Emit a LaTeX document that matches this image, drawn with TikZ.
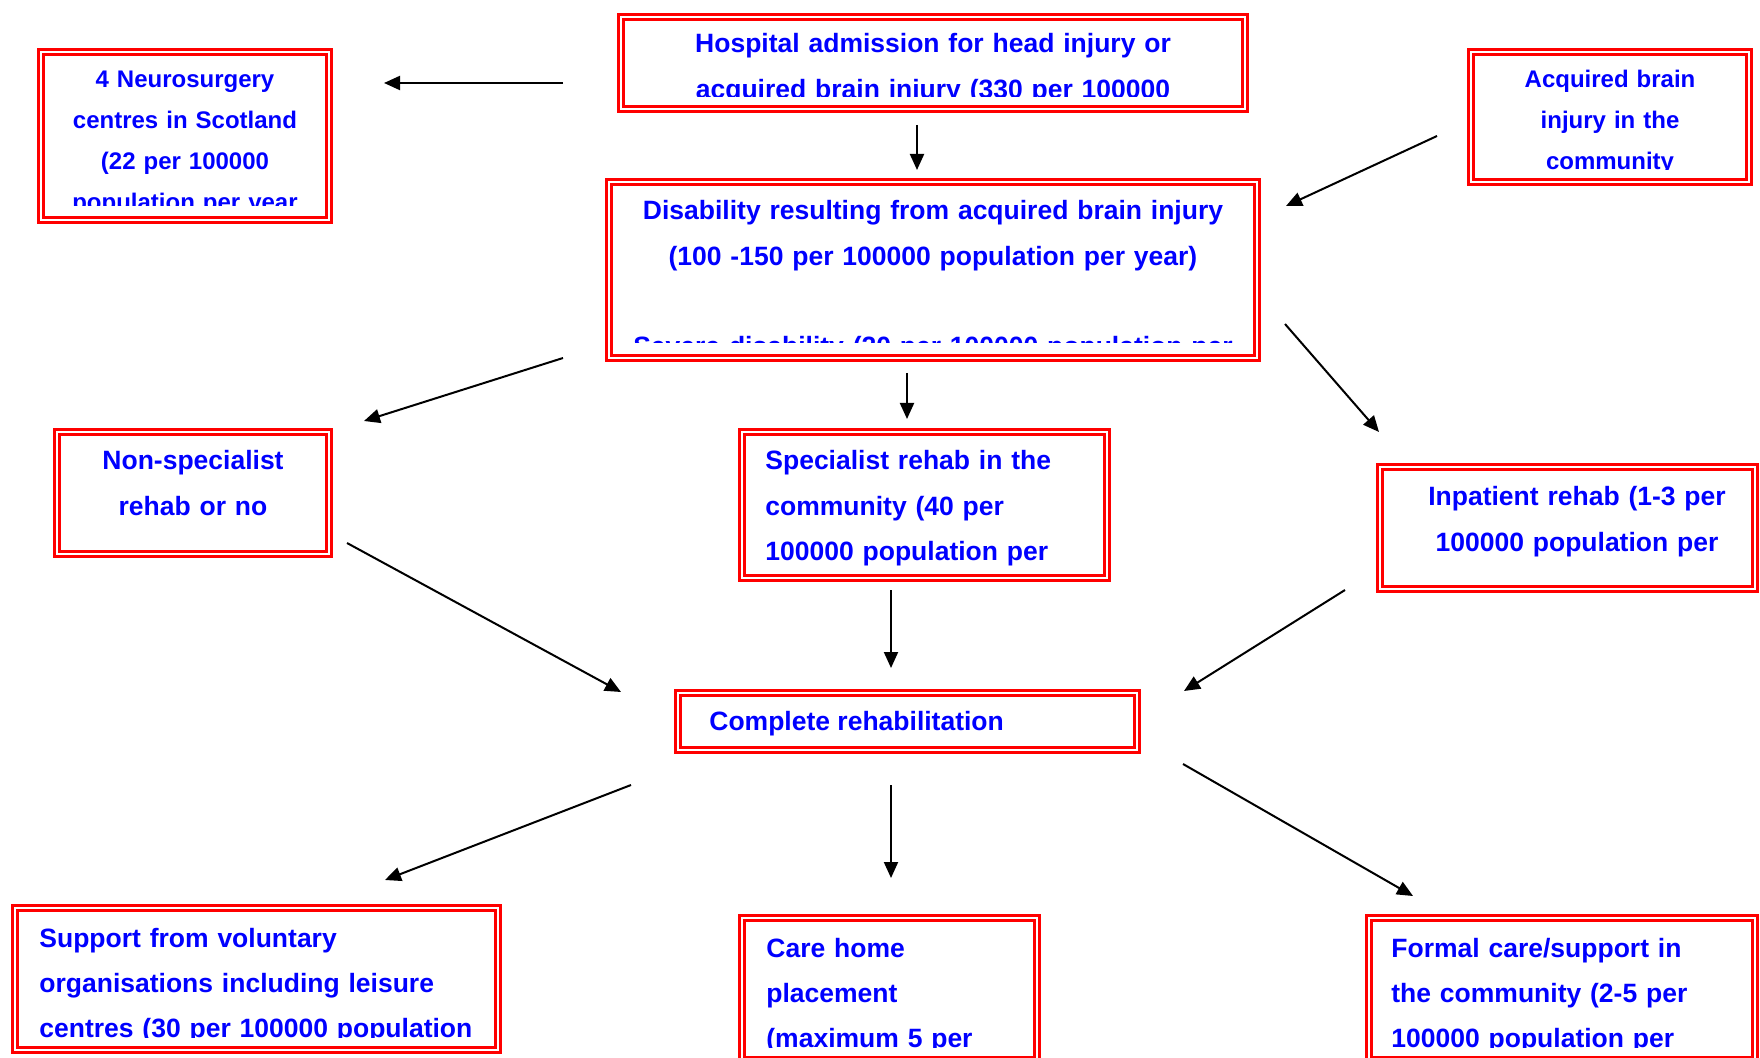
\documentclass[tikz,border=0pt]{standalone}
\usepackage{fontspec}
\setmainfont{Liberation Sans}
\usetikzlibrary{arrows.meta,fit}

\begin{document}
\begin{tikzpicture}[x=0.5pt,y=0.5pt,yscale=-1,xscale=1,
        box/.style={draw=red,double=white,line width=1.25pt,double distance=1.15pt,inner sep=0pt,rectangle},
        txt/.style={text=blue,font=\fontsize{13.25}{22.65}\selectfont\bfseries,inner sep=0pt},
        smalltxt/.style={text=blue,font=\fontsize{12}{20.4}\selectfont\bfseries,inner sep=0pt},
        arr/.style={line width=1pt,-{Triangle[length=8pt,width=7pt]}}]
        \useasboundingbox (0,0) rectangle (1760,1058);
        \clip (0,0) rectangle (1760,1058);

        %Shape: Rectangle
        \node [box, fit={(621,17) (1245,109)}] (hosp) {};
        %Shape: Rectangle
        \node [box, fit={(609,182) (1257,358)}] (dis) {};
        %Shape: Rectangle
        \node [box, fit={(41,52) (329,220)}] (neuro) {};
        %Shape: Rectangle
        \node [box, fit={(1471,52) (1749,182)}] (acq) {};
        %Shape: Rectangle
        \node [box, fit={(57,432) (329,554)}] (nonspec) {};
        %Shape: Rectangle
        \node [box, fit={(742,432) (1107,578)}] (spec) {};
        %Shape: Rectangle
        \node [box, fit={(1380,467) (1755,589)}] (inpat) {};
        %Shape: Rectangle
        \node [box, fit={(678,693) (1137,750)}] (complete) {};
        %Shape: Rectangle
        \node [box, fit={(15,908) (498,1050)}] (support) {};
        %Shape: Rectangle
        \node [box, fit={(742,918) (1037,1060)}] (care) {};
        %Shape: Rectangle
        \node [box, fit={(1369,918) (1755,1060)}] (formal) {};

        % Text Node
        \begin{scope}
        \clip (621,17) rectangle (1245,97);
        \node [txt, align=center, text width=300pt, anchor=base] (hospt) at (933,53) {Hospital admission for head injury or\\acquired brain injury (330 per 100000};
        \end{scope}
        % Text Node
        \begin{scope}
        \clip (609,182) rectangle (1257,343);
        \node [txt, align=center, text width=320pt, anchor=base] (dist) at (933,220) {Disability resulting from acquired brain injury\\(100 -150 per 100000 population per year)\\[22.65pt]Severe disability (20 per 100000 population per};
        \end{scope}
        % Text Node
        \begin{scope}
        \clip (41,52) rectangle (329,206);
        \node [smalltxt, align=center, text width=140pt, anchor=base] (neurot) at (185,88) {4 Neurosurgery\\centres in Scotland\\(22 per 100000\\population per year};
        \end{scope}
        % Text Node
        \begin{scope}
        \clip (1471,52) rectangle (1749,170);
        \node [smalltxt, align=center, text width=130pt, anchor=base] (acqt) at (1610,88) {Acquired brain\\injury in the\\community};
        \end{scope}
        % Text Node
        \begin{scope}
        \clip (57,432) rectangle (329,541);
        \node [txt, align=center, text width=130pt, anchor=base] (nonspect) at (193,470) {Non-specialist\\rehab or no};
        \end{scope}
        % Text Node
        \begin{scope}
        \clip (742,432) rectangle (1107,565);
        \node [txt, align=left, text width=170pt, anchor=base west] (spect) at (765,470) {Specialist rehab in the\\community (40 per\\100000 population per};
        \end{scope}
        % Text Node
        \begin{scope}
        \clip (1380,467) rectangle (1755,575);
        \node [txt, align=center, text width=170pt, anchor=base] (inpatt) at (1577,506) {Inpatient rehab (1-3 per\\100000 population per};
        \end{scope}
        % Text Node
        \node [txt, anchor=base west] (completet) at (709,730) {Complete rehabilitation};
        % Text Node
        \begin{scope}
        \clip (15,908) rectangle (498,1037);
        \node [txt, align=left, text width=225pt, anchor=base west] (supportt) at (39,947) {Support from voluntary\\organisations including leisure\\centres (30 per 100000 population};
        \end{scope}
        % Text Node
        \begin{scope}
        \clip (742,918) rectangle (1037,1047);
        \node [txt, align=left, text width=130pt, anchor=base west] (caret) at (766,957) {Care home\\placement\\(maximum 5 per};
        \end{scope}
        % Text Node
        \begin{scope}
        \clip (1369,918) rectangle (1755,1047);
        \node [txt, align=left, text width=170pt, anchor=base west] (formalt) at (1391,957) {Formal care/support in\\the community (2-5 per\\100000 population per};
        \end{scope}

        %Straight Lines
        \coordinate (hospW) at (563,83);
        \coordinate (neuroE) at (384,83);
        \draw [arr] (hospW) -- (neuroE);
        %Straight Lines
        \coordinate (hospS) at (917,125);
        \coordinate (disN) at (917,170);
        \draw [arr] (hospS) -- (disN);
        %Straight Lines
        \coordinate (acqW) at (1437,136);
        \coordinate (disNE) at (1286,206);
        \draw [arr] (acqW) -- (disNE);
        %Straight Lines
        \coordinate (disSW) at (563,358);
        \coordinate (nonspecNE) at (364,421);
        \draw [arr] (disSW) -- (nonspecNE);
        %Straight Lines
        \coordinate (disS) at (907,373);
        \coordinate (specN) at (907,419);
        \draw [arr] (disS) -- (specN);
        %Straight Lines
        \coordinate (disSE) at (1285,324);
        \coordinate (inpatNW) at (1379,432);
        \draw [arr] (disSE) -- (inpatNW);
        %Straight Lines
        \coordinate (nonspecSE) at (347,543);
        \coordinate (completeNW) at (621,692);
        \draw [arr] (nonspecSE) -- (completeNW);
        %Straight Lines
        \coordinate (specS) at (891,590);
        \coordinate (completeN) at (891,668);
        \draw [arr] (specS) -- (completeN);
        %Straight Lines
        \coordinate (inpatSW) at (1345,590);
        \coordinate (completeNE) at (1184,691);
        \draw [arr] (inpatSW) -- (completeNE);
        %Straight Lines
        \coordinate (completeSW) at (631,785);
        \coordinate (supportNE) at (385,880);
        \draw [arr] (completeSW) -- (supportNE);
        %Straight Lines
        \coordinate (completeS) at (891,785);
        \coordinate (careN) at (891,878);
        \draw [arr] (completeS) -- (careN);
        %Straight Lines
        \coordinate (completeSE) at (1183,764);
        \coordinate (formalNW) at (1413,896);
        \draw [arr] (completeSE) -- (formalNW);

\end{tikzpicture}
\end{document}
